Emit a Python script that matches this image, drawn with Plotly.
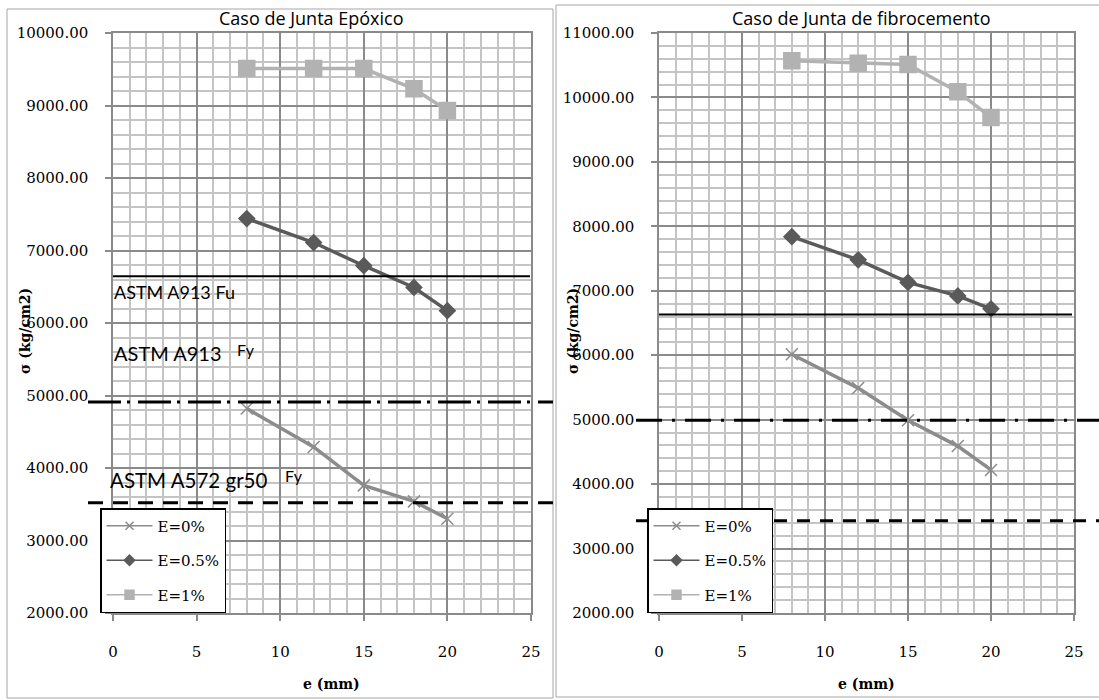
import plotly.graph_objects as go

# Joint thickness e (mm)
e_mm = [8, 12, 15, 18, 20]
series_names = ["E=0%", "E=0.5%", "E=1%"]

# Stress sigma (kg/cm2) - epoxy joint
epoxico_e0 = [4820, 4290, 3760, 3540, 3300]
epoxico_e05 = [7440, 7110, 6790, 6490, 6170]
epoxico_e1 = [9510, 9510, 9510, 9230, 8930]

# Stress sigma (kg/cm2) - fibre-cement joint
fibro_e0 = [6015, 5490, 4990, 4590, 4220]
fibro_e05 = [7840, 7480, 7130, 6920, 6720]
fibro_e1 = [10570, 10530, 10510, 10090, 9690]

# Steel reference stress levels (kg/cm2)
epoxico_fu = 6645
epoxico_fy_a913 = 4910
epoxico_fy_a572 = 3520
fibro_fu = 6630
fibro_fy_a913 = 4990
fibro_fy_a572 = 3430

W, H = 1099, 700
SERIF = "'DejaVu Serif', serif"
SANS = "Lato, 'Open Sans', sans-serif"

colors = ["#8c8c8c", "#5a5a5a", "#b2b2b2"]
symbols = ["x-thin-open", "diamond", "square"]
msizes = [12, 12, 16]
legend_msizes = [8, 8, 9]


def px(x):
    return x / W


def py(y):
    return 1 - y / H


left_dom = [px(113), px(531)]
right_dom = [px(659), px(1074)]
y_dom = [py(613), py(33)]

fig = go.Figure()


def add_series(xa, ya, legend_id, tag, values):
    for i, (name, ys) in enumerate(zip(series_names, values)):
        fig.add_trace(go.Scatter(
            x=e_mm, y=ys, name=name, mode="lines+markers",
            xaxis=xa, yaxis=ya, showlegend=False,
            line=dict(color=colors[i], width=3.5),
            marker=dict(symbol=symbols[i], size=msizes[i], color=colors[i],
                        line=dict(color=colors[i], width=1.5)),
        ))
        # legend key with a thin line and small marker
        fig.add_trace(go.Scatter(
            x=[None], y=[None], name=name, mode="lines+markers",
            xaxis=xa, yaxis=ya, legend=legend_id, legendgroup=tag + str(i),
            line=dict(color=colors[i], width=1.5),
            marker=dict(symbol=symbols[i], size=legend_msizes[i], color=colors[i],
                        line=dict(color=colors[i], width=1.5)),
        ))


add_series("x", "y", "legend", "l", [epoxico_e0, epoxico_e05, epoxico_e1])
add_series("x2", "y2", "legend2", "r", [fibro_e0, fibro_e05, fibro_e1])

MAJOR = "#8a8a8a"
MINOR = "#c4c4c4"
tickfont = dict(family=SERIF, size=15, color="black")


def xaxis(domain, anchor):
    return dict(
        domain=domain, anchor=anchor, range=[0, 25], dtick=5, tick0=0,
        showgrid=True, gridcolor=MAJOR, gridwidth=1.5,
        minor=dict(dtick=1, showgrid=True, gridcolor=MINOR, gridwidth=1.5),
        showline=True, linecolor=MAJOR, linewidth=1.5, mirror=True,
        ticks="outside", ticklen=6, tickcolor=MAJOR, tickwidth=1.5,
        ticklabelstandoff=18, tickfont=tickfont, zeroline=False,
        automargin=False,
    )


def yaxis(rng, anchor):
    return dict(
        domain=y_dom, anchor=anchor, range=rng, dtick=1000, tick0=0,
        tickformat=".2f", separatethousands=False,
        showgrid=True, gridcolor=MAJOR, gridwidth=1.5,
        minor=dict(dtick=200, showgrid=True, gridcolor=MINOR, gridwidth=1.5),
        showline=True, linecolor=MAJOR, linewidth=1.5, mirror=True,
        ticks="outside", ticklen=6, tickcolor=MAJOR, tickwidth=1.5,
        ticklabelstandoff=14, tickfont=tickfont, zeroline=False,
        automargin=False,
    )


legend_common = dict(
    xanchor="left", yanchor="top", bgcolor="white",
    bordercolor="black", borderwidth=1.5,
    font=dict(family=SERIF, size=15, color="black"),
    traceorder="grouped", tracegroupgap=12, itemsizing="trace",
    itemwidth=46,
)

fig.update_layout(
    width=W, height=H,
    margin=dict(l=0, r=0, t=0, b=0, pad=0, autoexpand=False),
    paper_bgcolor="white", plot_bgcolor="white",
    xaxis=xaxis(left_dom, "y"), yaxis=yaxis([2000, 10000], "x"),
    xaxis2=xaxis(right_dom, "y2"), yaxis2=yaxis([2000, 11000], "x2"),
    legend=dict(x=px(100), y=py(508), **legend_common),
    legend2=dict(x=px(647), y=py(508), **legend_common),
    showlegend=True,
)

shapes = []
# panel frames
shapes.append(dict(type="rect", xref="paper", yref="paper", x0=px(7), x1=px(553),
                   y0=py(698), y1=py(9), line=dict(color="#a6a6a6", width=1)))
shapes.append(dict(type="rect", xref="paper", yref="paper", x0=px(556), x1=px(1104),
                   y0=py(697), y1=py(5), line=dict(color="#a6a6a6", width=1)))


# steel reference levels
def hline(x0, x1, y, yref, dash, width):
    shapes.append(dict(type="line", xref="paper", yref=yref, x0=px(x0), x1=px(x1),
                       y0=y, y1=y, line=dict(color="black", width=width, dash=dash)))


hline(113, 530, epoxico_fu, "y", "solid", 2)
hline(88, 553, epoxico_fy_a913, "y", "33px,6px,3px,8px", 3)
hline(88, 553, epoxico_fy_a572, "y", "15px,10px", 3)
hline(659, 1072, fibro_fu, "y2", "solid", 2)
hline(636, 1099, fibro_fy_a913, "y2", "26px,10px,3px,10px", 3)
hline(636, 1099, fibro_fy_a572, "y2", "13px,10px", 3)

fig.update_layout(shapes=shapes)

ann = []


def label(text, x, y, size, family, xanchor="center", angle=0):
    ann.append(dict(text=text, xref="paper", yref="paper", x=px(x), y=py(y),
                    xanchor=xanchor, yanchor="middle", showarrow=False,
                    textangle=angle, font=dict(family=family, size=size, color="black")))


# chart titles
label("Caso de Junta Epóxico", 311, 18, 18, "'Open Sans', sans-serif")
label("Caso de Junta de fibrocemento", 861, 18, 18, "'Open Sans', sans-serif")

# axis titles
for xc in (331, 866):
    label("<b>e (mm)</b>", xc, 684, 14, SERIF)
for xc in (25, 573):
    label("<b>σ (kg/cm2)</b>", xc, 331, 14, SERIF, angle=-90)

# steel level labels on the epoxy chart
label("ASTM A913 Fu", 112, 292, 18, SANS, xanchor="left")
label("ASTM A913", 112, 353, 20, SANS, xanchor="left")
label("Fy", 235, 349, 16, SANS, xanchor="left")
label("ASTM A572 gr50", 108, 480, 20.5, SANS, xanchor="left")
label("Fy", 283, 475, 16, SANS, xanchor="left")

fig.update_layout(annotations=ann)

fig.write_html("out.html")
